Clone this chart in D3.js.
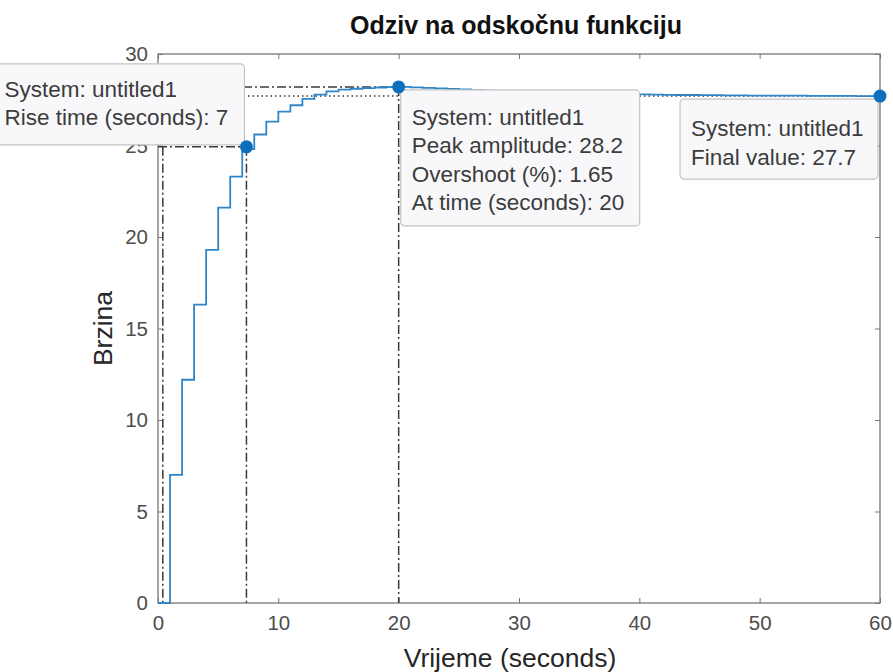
<!DOCTYPE html>
<html>
<head>
<meta charset="utf-8">
<script src="https://cdn.jsdelivr.net/npm/d3@7"></script>
<style>
	body { margin: 0; background: #fff; }
	svg { display: block; font-family: 'Liberation Sans', Arial, Helvetica, sans-serif; }
	.tick line { stroke: #777; }
	.tick text { fill: #4d4d4d; font-size: 20.5px; }
</style>
</head>
<body>
<svg id="chart" width="893" height="672"></svg>
<script>

// step response samples, one per second
var sampleTime = 1;
var response = [
	0, 7.0, 12.2, 16.3, 19.3, 21.6, 23.3, 24.8, 25.6, 26.3,
	26.85, 27.2, 27.55, 27.78, 27.96, 28.05, 28.1, 28.14, 28.17, 28.19,
	28.2, 28.18, 28.15, 28.12, 28.09, 28.06, 28.03, 28.0, 27.97, 27.95,
	27.93, 27.91, 27.89, 27.87, 27.85, 27.84, 27.83, 27.82, 27.81, 27.8,
	27.79, 27.78, 27.77, 27.76, 27.76, 27.75, 27.75, 27.74, 27.74, 27.73,
	27.73, 27.72, 27.72, 27.72, 27.71, 27.71, 27.71, 27.71, 27.7, 27.7,
	27.7
];

var xTicks = [ 0, 10, 20, 30, 40, 50, 60 ];
var yTicks = [ 0, 5, 10, 15, 20, 25, 30 ];

// characteristics shown by the data tips: [ time, value ]
var riseStart = [ 0.4, 24.93 ];
var riseEnd = [ 7.35, 24.93 ];
var peakPoint = [ 20, 28.2 ];
var finalPoint = [ 60, 27.7 ];

var riseLines = [ 'System: untitled1', 'Rise time (seconds): 7' ];
var peakLines = [ 'System: untitled1', 'Peak amplitude: 28.2', 'Overshoot (%): 1.65', 'At time (seconds): 20' ];
var finalLines = [ 'System: untitled1', 'Final value: 27.7' ];

var margin = { left: 158, right: 13, top: 54, bottom: 69 },
	svg = d3.select( '#chart' ),
	width = +svg.attr( 'width' ),
	height = +svg.attr( 'height' ),
	plotW = width - margin.left - margin.right,
	plotH = height - margin.top - margin.bottom;

var x = d3.scaleLinear().domain( [ 0, 60 ] ).range( [ margin.left, margin.left + plotW ] );
var y = d3.scaleLinear().domain( [ 0, 30 ] ).range( [ margin.top + plotH, margin.top ] );

var points = response.map( function( _v, _i ) {
	return [ _i * sampleTime, _v ];
} );

// axes, ticks pointing inwards on all four sides
svg.append( 'g' )
	.attr( 'transform', 'translate(0,' + y( 0 ) + ')' )
	.call( d3.axisBottom( x ).tickValues( xTicks ).tickSizeInner( -5 ).tickSizeOuter( 0 ).tickPadding( 12 ) )
	.call( function( _g ) { _g.select( '.domain' ).remove(); } );

svg.append( 'g' )
	.attr( 'transform', 'translate(' + x( 0 ) + ',0)' )
	.call( d3.axisLeft( y ).tickValues( yTicks ).tickSizeInner( -5 ).tickSizeOuter( 0 ).tickPadding( 10 ) )
	.call( function( _g ) { _g.select( '.domain' ).remove(); } );

svg.append( 'g' )
	.attr( 'transform', 'translate(0,' + y( 30 ) + ')' )
	.call( d3.axisTop( x ).tickValues( xTicks ).tickSizeInner( -5 ).tickSizeOuter( 0 ).tickFormat( '' ) )
	.call( function( _g ) { _g.select( '.domain' ).remove(); } );

svg.append( 'g' )
	.attr( 'transform', 'translate(' + x( 60 ) + ',0)' )
	.call( d3.axisRight( y ).tickValues( yTicks ).tickSizeInner( -5 ).tickSizeOuter( 0 ).tickFormat( '' ) )
	.call( function( _g ) { _g.select( '.domain' ).remove(); } );

svg.append( 'rect' )
	.attr( 'x', x( 0 ) ).attr( 'y', y( 30 ) )
	.attr( 'width', x( 60 ) - x( 0 ) ).attr( 'height', y( 0 ) - y( 30 ) )
	.attr( 'fill', 'none' ).attr( 'stroke', '#777' ).attr( 'stroke-width', 1.3 );

// characteristic guide lines
var dashDot = '9,3,2,3';

function guide( _pts, _dash ) {
	svg.append( 'path' )
		.attr( 'd', d3.line()( _pts.map( function( _p ) { return [ x( _p[ 0 ] ), y( _p[ 1 ] ) ]; } ) ) )
		.attr( 'fill', 'none' )
		.attr( 'stroke', '#3a3a3a' )
		.attr( 'stroke-width', 1.5 )
		.attr( 'stroke-dasharray', _dash );
}

guide( [ [ 0, finalPoint[ 1 ] ], [ 60, finalPoint[ 1 ] ] ], '1.5,3' );
guide( [ [ 0, riseEnd[ 1 ] ], [ riseEnd[ 0 ], riseEnd[ 1 ] ] ], dashDot );
guide( [ [ riseStart[ 0 ], riseStart[ 1 ] ], [ riseStart[ 0 ], 0 ] ], dashDot );
guide( [ [ riseEnd[ 0 ], riseEnd[ 1 ] ], [ riseEnd[ 0 ], 0 ] ], dashDot );
guide( [ [ 0, peakPoint[ 1 ] ], [ peakPoint[ 0 ], peakPoint[ 1 ] ] ], dashDot );
guide( [ [ peakPoint[ 0 ], peakPoint[ 1 ] ], [ peakPoint[ 0 ], 0 ] ], dashDot );

// the step response itself
svg.append( 'path' )
	.datum( points )
	.attr( 'd', d3.line()
		.curve( d3.curveStepAfter )
		.x( function( _d ) { return x( _d[ 0 ] ); } )
		.y( function( _d ) { return y( _d[ 1 ] ); } ) )
	.attr( 'fill', 'none' )
	.attr( 'stroke', '#2f85c8' )
	.attr( 'stroke-width', 1.8 );

// data tips: box placed relative to its marker
function dataTip( _pt, _lines, _w, _h, _dx, _dy, _textX, _firstBase ) {
	var px = x( _pt[ 0 ] ),
		py = y( _pt[ 1 ] ),
		g = svg.append( 'g' ).attr( 'transform', 'translate(' + ( px + _dx ) + ',' + ( py + _dy ) + ')' );

	g.append( 'rect' )
		.attr( 'width', _w ).attr( 'height', _h )
		.attr( 'rx', 4 )
		.attr( 'fill', '#f8f8fa' )
		.attr( 'stroke', '#c4c4c4' )
		.attr( 'stroke-width', 1.2 );

	g.selectAll( 'text' )
		.data( _lines )
		.enter().append( 'text' )
		.attr( 'x', _textX )
		.attr( 'y', function( _d, _i ) { return _firstBase + _i * 28.5; } )
		.attr( 'fill', '#3c3c3c' )
		.style( 'font-size', '22.5px' )
		.text( function( _d ) { return _d; } );

	svg.append( 'circle' )
		.attr( 'cx', px ).attr( 'cy', py ).attr( 'r', 6.5 )
		.attr( 'fill', '#0b6fbd' );
}

dataTip( riseEnd, riseLines, 260, 81, -262, -83, 20, 33 );
dataTip( peakPoint, peakLines, 239, 136, 2, 3, 11, 35 );
dataTip( finalPoint, finalLines, 198, 80, -200, 3, 11, 37 );

// title and axis labels
svg.append( 'text' )
	.attr( 'x', 516 ).attr( 'y', 34 )
	.attr( 'text-anchor', 'middle' )
	.style( 'font-size', '25px' ).style( 'font-weight', 'bold' )
	.attr( 'fill', '#111' )
	.text( 'Odziv na odskočnu funkciju' );

svg.append( 'text' )
	.attr( 'x', 510 ).attr( 'y', 667 )
	.attr( 'text-anchor', 'middle' )
	.style( 'font-size', '26.5px' )
	.attr( 'fill', '#262626' )
	.text( 'Vrijeme (seconds)' );

svg.append( 'text' )
	.attr( 'transform', 'translate(112,' + ( ( y( 0 ) + y( 30 ) ) / 2 ) + ') rotate(-90)' )
	.attr( 'text-anchor', 'middle' )
	.style( 'font-size', '26.5px' )
	.attr( 'fill', '#262626' )
	.text( 'Brzina' );

</script>
</body>
</html>
